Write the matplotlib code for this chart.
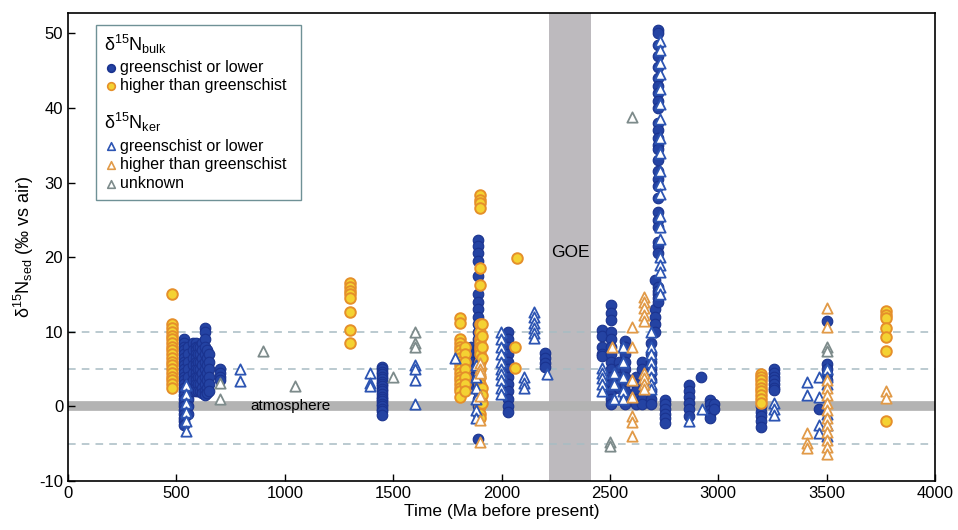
import matplotlib
matplotlib.use("Agg")
import matplotlib.pyplot as plt
from matplotlib.patches import Rectangle

plt.rcParams['font.family'] = ['Liberation Sans', 'DejaVu Sans']
plt.rcParams['axes.unicode_minus'] = False

# ----------------------------------------------------------------------------
# Data (age in Ma, d15N in permil), one list of values per age column
# ----------------------------------------------------------------------------

# d15N bulk, greenschist or lower (blue circles)
bulk_low_age = [535, 555, 575, 590, 600, 610, 620, 630, 640, 650, 700, 1450,
                1860, 1890, 2030, 2200, 2465, 2505, 2540, 2570, 2620, 2650, 2690,
                2710, 2720, 2754, 2866, 2920, 2960, 2980, 3195, 3257, 3465, 3500]
bulk_low_d15n = [
    [9, 8.5, 8, 7.5, 7, 6.5, 6, 5.5, 5, 4.5, 4, 3.5, 3, 2.5, 2, 1.5, 1, 0.5, 0,
     -0.5, -1, -1.5, -2, -2.5],
    [8, 7, 6, 5, 4, 3, 2, 1, 0, -1],
    [8.5, 7.5, 6.5, 5.5, 4.5, 3.5, 2.5, 2],
    [8.5, 8, 7.5, 7, 6.5, 6, 5.5, 5, 4.5, 4, 3.5, 3, 2.5, 2],
    [8, 7, 6, 5, 4, 3, 2],
    [8, 7, 6, 5, 4, 3, 2],
    [8.5, 7.5, 6.5, 5.5, 4.5, 3.5, 2.5, 1.8],
    [10.5, 10, 9, 8, 7, 6, 5, 4, 3, 2, 1.5],
    [7.5, 6.5, 5.5, 4.5, 3.5, 2.5, 1.8],
    [7, 6, 5, 4, 3, 2],
    [5, 4.5, 4, 3.5],
    [5.3, 5, 4.6, 4.3, 4, 3.7, 3.3, 3, 2.7, 2.3, 2, 1.7, 1.3, 1, 0.7, 0.3, 0,
     -0.3, -0.6, -1.1],
    [8, 7, 6, 5, 4, 3],
    [22.3, 21.5, 20.5, 19.5, 17.5, 15, 14, 13, 12, 11, 10, 9, 8, 7, 6, 5, 4, 3,
     2, 1, 0, -1, -4.4],
    [10, 9, 8, 7, 6, 5, 4, 3, 2, 1, 0, -0.7],
    [7.2, 6.5, 5.8, 5.3],
    [10.3, 9.5, 8, 7, 6.7],
    [13.6, 12.5, 11.6, 10, 9, 8, 7, 6, 5, 4, 3, 2, 1, 0.3],
    [6, 5, 4, 3, 2.5],
    [8.7, 8, 7, 6, 5, 4, 3, 2, 1, 0.3],
    [4, 3, 2, 1, 0.3],
    [6, 5, 1, 0.3],
    [8.5, 7, 6, 5, 4.5, 3.5, 2, 1, 0.3],
    [17, 13, 12, 11, 10],
    [50.4, 50, 48.5, 47, 45.5, 44, 43, 42, 41, 40, 38, 37, 36, 35, 34.5, 33,
     31.5, 30.5, 29.5, 28, 26, 25, 24, 22, 21.5, 20.5, 16, 15.5, 15, 14.5, 14],
    [0.9, 0.3, -0.3, -1, -1.6, -2.2],
    [2.9, 2, 1.2, 0.4, -0.4, -1.3],
    [4],
    [0.9, 0.3, -0.5, -1, -1.6],
    [0.3, -0.3],
    [0, -0.7, -1.3, -2, -2.7],
    [5, 4.5, 4, 3.5, 3, 2.5, 2.2],
    [-0.3],
    [11.4, 5.7, 5, 4.3, 3.5],
]

# d15N bulk, higher than greenschist (yellow/orange circles)
bulk_high_age = [480, 1300, 1810, 1830, 1900, 1910, 2062, 2072, 3195, 3774]
bulk_high_d15n = [
    [15, 11, 10.5, 10, 9.5, 9, 8.5, 8, 7.5, 7, 6.5, 6, 5.5, 5, 4.5, 4, 3.5, 3, 2.5],
    [16.5, 16, 15.5, 15, 14.5, 12.6, 10.3, 8.5],
    [11.9, 11.2, 9, 8.5, 8, 7.5, 7, 6.5, 6, 5.5, 5, 4.5, 4, 3.5, 3, 2.5, 2, 1.3],
    [8, 7, 6, 5, 4, 3, 2],
    [28.3, 27.7, 27.2, 26.6, 18.6, 16.3, 11, 10, 9, 8.5, 8, 7.5, 7, 6, 5, 4, 3,
     2, 1, 0, -1, -1.5],
    [11, 9.5, 8, 6.5, 2.5, 1.5, 0.5],
    [7.9, 5.2],
    [19.9],
    [4.4, 4, 3.5, 3, 2.5, 2, 1.5, 1, 0.4],
    [12.8, 12.3, 11.8, 10.5, 9.3, 7.4, -1.9],
]

# d15N kerogen, greenschist or lower (blue open triangles)
ker_low_age = [545, 794, 1393, 1600, 1785, 1880, 1998, 2104, 2150, 2210, 2465,
               2520, 2560, 2690, 2730, 2866, 2925, 3257, 3410, 3465, 3500]
ker_low_d15n = [
    [2.9, 1.6, 0.5, -0.8, -2, -3.3],
    [5, 3.4],
    [4.5, 3.2, 2.7],
    [5.6, 5, 3.6, 0.3],
    [6.5],
    [5.5, 4, 2.5, 1, -0.5, -1.5],
    [10, 9, 8, 7, 6, 5, 4.3, 3.5, 2.5, 1.6],
    [3.9, 3.2, 2.5],
    [12.7, 12, 11.2, 10.5, 9.8, 9.2],
    [4.3],
    [5.2, 4.5, 3.8, 3, 2],
    [4.5, 3, 1],
    [8, 6, 4, 2, 1],
    [10, 8, 7, 6, 5, 4, 3, 2.3],
    [49, 47.8, 46, 44.5, 42.5, 40.5, 38.5, 36, 34, 31.5, 29.8, 28.5, 25.5, 24,
     22.5, 20, 19, 18, 16, 15],
    [-2],
    [-0.4],
    [0.4, -0.4, -1.2],
    [3.3, 1.5],
    [4, 1.3, -2.5, -3.6],
    [5, 4, 3, -1, -2.5, -4],
]

# d15N kerogen, higher than greenschist (orange open triangles)
ker_high_age = [1900, 2510, 2602, 2657, 3410, 3500, 3774]
ker_high_d15n = [
    [5.8, 5, 4.5, 1.4, -1.8, -4.8],
    [8],
    [10.6, 8, 3.6, 1.3, -1.3, -2.1, -4],
    [14.7, 14, 13.2, 12.3, 11.4, 4.5, 3.8, 3, 2.3],
    [-3.6, -4.9, -5.6],
    [13.2, 10.6, 3.5, 2.5, 1.5, 0.5, -0.5, -1.5, -2.5, -3.5, -4.5, -5.5, -6.4],
    [2, 1.1],
]

# d15N kerogen, unknown grade (grey open triangles)
ker_unk_age = [700, 900, 1047, 1500, 1600, 2500, 2602, 3500]
ker_unk_d15n = [
    [3.2, 1],
    [7.4],
    [2.7],
    [4],
    [10, 8.5, 7.9],
    [-4.8, -5.3],
    [38.8],
    [7.9, 7.4],
]

GOE = (2220, 2415)
REF_LINES = [10, 5, -5]

BLUE = "#2443a3"
BLUE_EDGE = "#1a338f"
YELLOW = "#f4d232"
ORANGE = "#e58f2a"
TRI_BLUE = "#2d55b3"
TRI_ORANGE = "#e19a48"
TRI_GREY = "#7d8b8b"


def flatten(ages, vals):
    x = [a for a, v in zip(ages, vals) for _ in v]
    y = [d for v in vals for d in v]
    return x, y


fig = plt.figure(figsize=(9.58, 5.30), dpi=100)
ax = fig.add_axes([0.071, 0.0925, 0.905, 0.8825])

ax.axvspan(*GOE, color="#bdbabe", lw=0, zorder=0)
ax.axhline(0, color="#b3b3b3", lw=7, zorder=0)
for yv in REF_LINES:
    ax.axhline(yv, color="#a8bcc3", lw=1.1, ls=(0, (5, 4)), zorder=0)

x, y = flatten(bulk_low_age, bulk_low_d15n)
ax.scatter(x, y, s=58, c=BLUE, edgecolors=BLUE_EDGE, linewidths=0.8, zorder=2)
x, y = flatten(bulk_high_age, bulk_high_d15n)
ax.scatter(x, y, s=58, c=YELLOW, edgecolors=ORANGE, linewidths=1.4, zorder=2)
x, y = flatten(ker_low_age, ker_low_d15n)
ax.scatter(x, y, s=55, marker="^", facecolors="white", edgecolors=TRI_BLUE,
           linewidths=1.3, zorder=3)
x, y = flatten(ker_high_age, ker_high_d15n)
ax.scatter(x, y, s=55, marker="^", facecolors="white", edgecolors=TRI_ORANGE,
           linewidths=1.3, zorder=3)
x, y = flatten(ker_unk_age, ker_unk_d15n)
ax.scatter(x, y, s=55, marker="^", facecolors="white", edgecolors=TRI_GREY,
           linewidths=1.3, zorder=3)

ax.text(2317, 20.6, "GOE", ha="center", va="center", fontsize=12.5, zorder=4)
ax.text(1025, 0, "atmosphere", ha="center", va="center", fontsize=11, zorder=4)

ax.set_xlim(0, 4000)
ax.set_ylim(-10, 52.7)
ax.set_xticks(range(0, 4001, 500))
ax.set_yticks(range(-10, 51, 10))
ax.tick_params(direction="in", labelsize=12, length=5, width=1)
for sp in ax.spines.values():
    sp.set_linewidth(1.2)
ax.set_xlabel("Time (Ma before present)", fontsize=12.5, labelpad=2)
ax.set_ylabel(r"$\mathregular{\delta^{15}N_{sed}}$ (‰ vs air)", fontsize=13,
              labelpad=2)

# legend box drawn by hand (two titled groups)
tr = ax.transAxes
ax.add_patch(Rectangle((0.032, 0.600), 0.237, 0.374, transform=tr,
                       facecolor="white", edgecolor="#6f9196", lw=1, zorder=5))
ax.text(0.041, 0.934, r"$\mathregular{\delta^{15}N_{bulk}}$", transform=tr,
        fontsize=13, va="center", zorder=6)
ax.text(0.041, 0.766, r"$\mathregular{\delta^{15}N_{ker}}$", transform=tr,
        fontsize=13, va="center", zorder=6)
legend_rows = [
    (0.884, "o", BLUE, BLUE_EDGE, "greenschist or lower"),
    (0.845, "o", YELLOW, ORANGE, "higher than greenschist"),
    (0.716, "^", "white", TRI_BLUE, "greenschist or lower"),
    (0.676, "^", "white", TRI_ORANGE, "higher than greenschist"),
    (0.636, "^", "white", TRI_GREY, "unknown"),
]
for yy, m, fc, ec, lab in legend_rows:
    ax.scatter([0.049], [yy], s=30, marker=m, facecolors=fc,
               edgecolors=ec, linewidths=1.2, transform=tr, zorder=6)
    ax.text(0.06, yy, lab, transform=tr, fontsize=11.5, va="center", zorder=6)

fig.savefig("out.png", dpi=100)
